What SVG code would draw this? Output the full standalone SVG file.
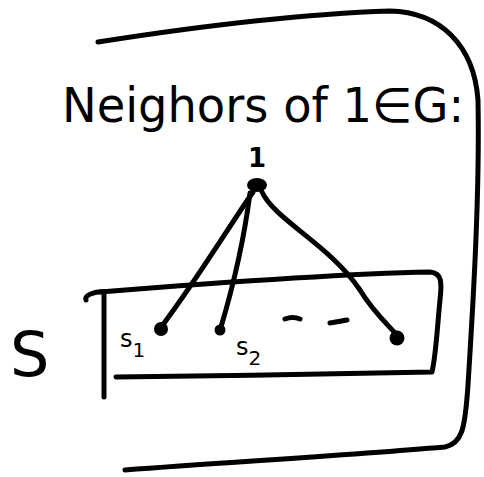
<svg xmlns="http://www.w3.org/2000/svg" width="484" height="477" viewBox="0 0 484 477">
<style>
.s{fill:none;stroke:#000;stroke-width:5;stroke-linecap:round;stroke-linejoin:round}
.d{fill:#000}
.t{font-family:"DejaVu Sans",sans-serif;fill:#000}
</style>
<rect width="484" height="477" fill="#fff"/>
<g id="frame">
<path class="s" d="M98,42 C200,26 300,14 390,11 C440,12 474,45 478,100 C480,200 472,320 468,385 C465,430 462,443 445,447 C340,456 230,462 125,470"/>
</g>
<g id="title">
<text class="t" x="62" y="122" font-size="48" textLength="402" lengthAdjust="spacingAndGlyphs">Neighors of 1∈G:</text>
</g>
<g id="set-S">
<path class="s" d="M100,292 C200,284 330,274 430,272 C442,273 442,282 440,300 C437,330 436,355 432,372 C330,374 220,376 116,377"/>
<path class="s" d="M104,397 L104,292 M104,292 C96,291 84,295 86,300"/>
<text class="t" x="10" y="376" font-size="62">S</text>
</g>
<g id="node-1">
<ellipse class="d" cx="257" cy="185" rx="10" ry="7"/>
<text class="t" x="257" y="167" font-size="26" font-weight="bold" text-anchor="middle">1</text>
</g>
<g id="node-s1">
<circle class="d" cx="161" cy="329" r="7"/>
<text class="t" x="120" y="347" font-size="24">s<tspan font-size="20" dy="10">1</tspan></text>
</g>
<g id="node-s2">
<circle class="d" cx="220" cy="330" r="5.5"/>
<text class="t" x="236" y="355" font-size="24">s<tspan font-size="20" dy="10">2</tspan></text>
</g>
<g id="node-sk">
<circle class="d" cx="397" cy="338" r="7.5"/>
</g>
<g id="dots">
<path class="s" d="M285,319 C290,317 295,317 300,319 M330,323 C336,322 342,321 347,320"/>
</g>
<g id="connectors">
<path class="s" d="M253,192 C230,225 200,275 162,326"/>
<path class="s" d="M250,193 C244,240 232,290 221,327"/>
<path class="s" d="M262,192 C275,220 330,245 360,290 C372,310 385,322 396,334"/>
</g>
</svg>
